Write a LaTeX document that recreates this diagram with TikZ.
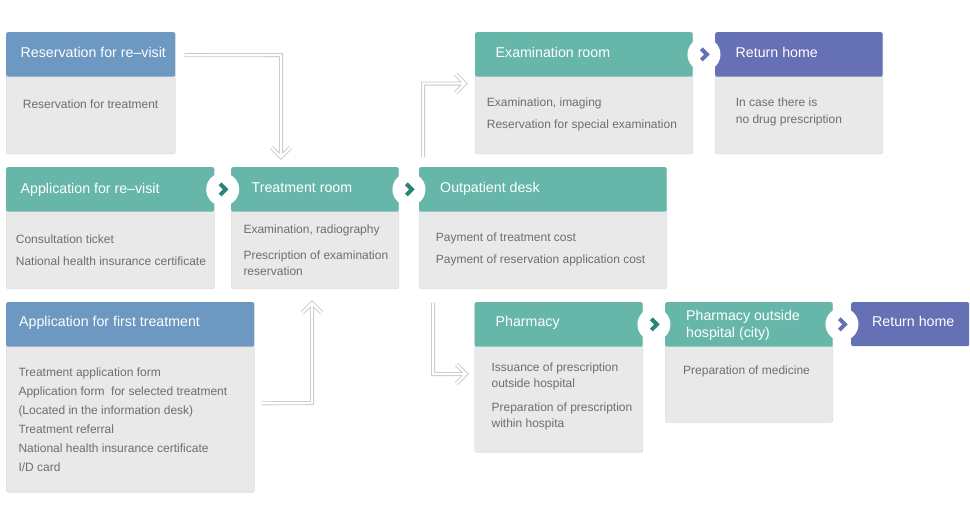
\documentclass[tikz,border=0pt]{standalone}
\usepackage{fontspec}
\setmainfont{Liberation Sans}
\usetikzlibrary{calc}
\definecolor{teal1}{HTML}{66B7AA}
\definecolor{blue1}{HTML}{6C98C1}
\definecolor{purp1}{HTML}{6670B5}
\definecolor{bodyg}{HTML}{E9E9E9}
\definecolor{bord}{HTML}{DDDDDD}
\definecolor{txtg}{HTML}{6E6E6E}
\definecolor{chevt}{HTML}{2A8577}
\definecolor{arrg}{HTML}{C8C8C8}
\tikzset{
  boxbody/.style={draw=bord, line width=0.6pt, fill=bodyg, rounded corners=2pt, anchor=north west, inner sep=0pt},
  hdr/.style={fill=#1, rounded corners=2pt, anchor=north west, inner sep=0pt},
  ht/.style={anchor=base west, inner sep=0pt, text=white, font=\fontsize{14.2}{17}\selectfont},
  bt/.style={anchor=base west, inner sep=0pt, text=txtg, font=\fontsize{12}{14}\selectfont},
  hollow/.style={draw=arrg, line width=0.8pt, double=white, double distance=2.4pt, line join=miter},
  joint/.style={circle, fill=white, minimum size=33pt, inner sep=0pt},
  chev/.style={line width=3.9pt, draw=#1, line join=miter},
}
\begin{document}
\begin{tikzpicture}[x=1pt, y=-1pt]
\fill[white] (0,0) rectangle (970,520);
\useasboundingbox (0,0) rectangle (970,520);

% ---- boxes ----
\node[boxbody, minimum width=169pt, minimum height=121.5pt] (b1) at (6,32) {};
\node[hdr=blue1, minimum width=169pt, minimum height=44.5pt] (h1) at (6,32) {};
\node[boxbody, minimum width=208pt, minimum height=121.5pt] (b2) at (6,167) {};
\node[hdr=teal1, minimum width=208pt, minimum height=44.5pt] (h2) at (6,167) {};
\node[boxbody, minimum width=167.5pt, minimum height=121.5pt] (b3) at (231,167) {};
\node[hdr=teal1, minimum width=167.5pt, minimum height=44.5pt] (h3) at (231,167) {};
\node[boxbody, minimum width=247.5pt, minimum height=121.5pt] (b4) at (419,167) {};
\node[hdr=teal1, minimum width=247.5pt, minimum height=44.5pt] (h4) at (419,167) {};
\node[boxbody, minimum width=217.5pt, minimum height=121.5pt] (b5) at (475,32) {};
\node[hdr=teal1, minimum width=217.5pt, minimum height=44.5pt] (h5) at (475,32) {};
\node[boxbody, minimum width=167.5pt, minimum height=121.5pt] (b6) at (715,32) {};
\node[hdr=purp1, minimum width=167.5pt, minimum height=44.5pt] (h6) at (715,32) {};
\node[boxbody, minimum width=248pt, minimum height=190pt] (b7) at (6,302) {};
\node[hdr=blue1, minimum width=248pt, minimum height=44.5pt] (h7) at (6,302) {};
\node[boxbody, minimum width=168pt, minimum height=150pt] (b8) at (474.5,302) {};
\node[hdr=teal1, minimum width=168pt, minimum height=44.5pt] (h8) at (474.5,302) {};
\node[boxbody, minimum width=167.5pt, minimum height=120pt] (b9) at (665,302) {};
\node[hdr=teal1, minimum width=167.5pt, minimum height=44.5pt] (h9) at (665,302) {};
\node[hdr=purp1, minimum width=118pt, minimum height=44pt] (h10) at (851,302) {};

% ---- header texts ----
\node[ht] (t1) at (20.5,57) {Reservation for re–visit};
\node[ht] (t2) at (20.5,193.5) {Application for re–visit};
\node[ht] (t3) at (251.5,192) {Treatment room};
\node[ht] (t4) at (440,192) {Outpatient desk};
\node[ht] (t5) at (495.5,57) {Examination room};
\node[ht] (t6) at (735.5,57) {Return home};
\node[ht] (t7) at (19,326) {Application for first treatment};
\node[ht] (t8) at (495.5,326) {Pharmacy};
\node[ht] (t9a) at (686,320.7) {Pharmacy outside};
\node[ht] (t9b) at (686,337.7) {hospital (city)};
\node[ht] (t10) at (872,326) {Return home};

% ---- body texts ----
\node[bt] (l1a) at (22.7,108) {Reservation for treatment};
\node[bt] (l2a) at (15.7,243) {Consultation ticket};
\node[bt] (l2b) at (15.7,265) {National health insurance certificate};
\node[bt] (l3a) at (243.3,233) {Examination, radiography};
\node[bt] (l3b) at (243.3,259) {Prescription of examination};
\node[bt] (l3c) at (243.3,275) {reservation};
\node[bt] (l4a) at (435.7,241.5) {Payment of treatment cost};
\node[bt] (l4b) at (435.7,263) {Payment of reservation application cost};
\node[bt] (l5a) at (486.7,106) {Examination, imaging};
\node[bt] (l5b) at (486.7,128) {Reservation for special examination};
\node[bt] (l6a) at (735.7,106) {In case there is};
\node[bt] (l6b) at (735.7,123.5) {no drug prescription};
\node[bt] (l7a) at (18.3,376) {Treatment application form};
\node[bt] (l7b) at (18.3,395) {Application form\ \ for selected treatment};
\node[bt] (l7c) at (18.3,414) {(Located in the information desk)};
\node[bt] (l7d) at (18.3,433) {Treatment referral};
\node[bt] (l7e) at (18.3,452) {National health insurance certificate};
\node[bt] (l7f) at (18.3,471) {I/D card};
\node[bt] (l8a) at (491.4,371) {Issuance of prescription};
\node[bt] (l8b) at (491.4,387) {outside hospital};
\node[bt] (l8c) at (491.4,411) {Preparation of prescription};
\node[bt] (l8d) at (491.4,427) {within hospita};
\node[bt] (l9a) at (683,374.5) {Preparation of medicine};

% ---- chevron joints ----
\foreach \a/\b/\n/\c in {h2/h3/j1/chevt, h3/h4/j2/chevt, h5/h6/j3/purp1, h8/h9/j4/chevt, h9/h10/j5/purp1}{
  \path (\a.east) -- (\b.west) coordinate[midway] (\n);
  \node[joint] (\n c) at (\n) {};
  \draw[chev=\c] ($(\n)+(-2.6,-5.6)$) -- ($(\n)+(3,0)$) -- ($(\n)+(-2.6,5.6)$);
}

% ---- hollow arrows ----
\coordinate (a1s) at ($(h1.east)+(9,0.8)$);
\coordinate (a1c) at (281,55);
\coordinate (a1t) at (281,157);
\draw[hollow] (a1s) -- (a1c) -- (a1t) ($(a1t)+(-9.5,-9.5)$) -- (a1t) -- ($(a1t)+(9.5,-9.5)$);

\coordinate (a2s) at ($(b7.east)+(7,6)$);
\coordinate (a2c) at (312,403);
\coordinate (a2t) at (312,303);
\draw[hollow] (a2s) -- (a2c) -- (a2t) ($(a2t)+(-9.5,9.5)$) -- (a2t) -- ($(a2t)+(9.5,9.5)$);

\coordinate (a3s) at ($(b4.north west)+(4,-10)$);
\coordinate (a3c) at (423,83.5);
\coordinate (a3t) at (465,83.5);
\draw[hollow] (a3s) -- (a3c) -- (a3t) ($(a3t)+(-9.5,-9.5)$) -- (a3t) -- ($(a3t)+(-9.5,9.5)$);

\coordinate (a4s) at ($(b4.south west)+(14,13.5)$);
\coordinate (a4c) at (433,374);
\coordinate (a4t) at (466,374);
\draw[hollow] (a4s) -- (a4c) -- (a4t) ($(a4t)+(-9.5,-9.5)$) -- (a4t) -- ($(a4t)+(-9.5,9.5)$);
\end{tikzpicture}
\end{document}
